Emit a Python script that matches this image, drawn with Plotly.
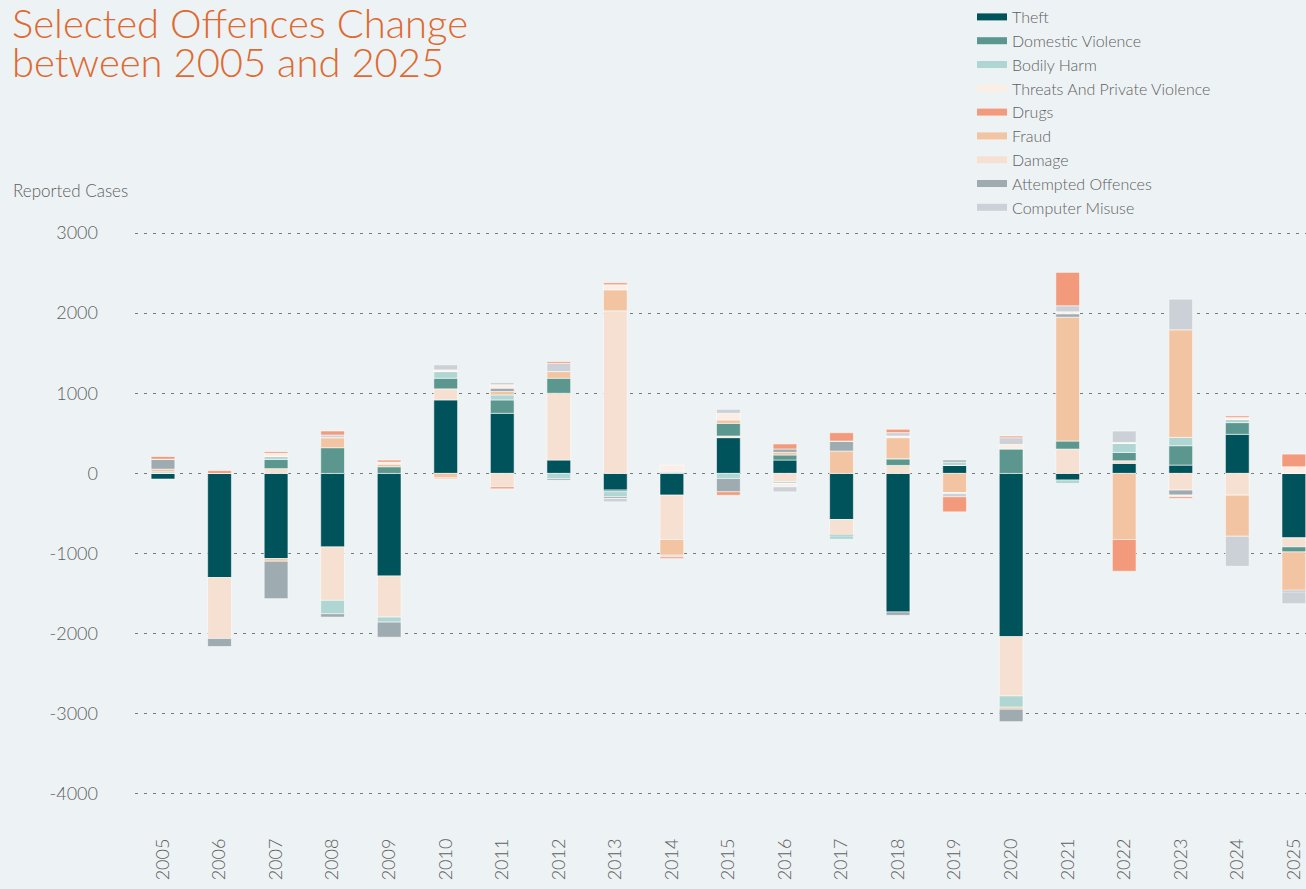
import plotly.graph_objects as go

years = list(range(2005, 2026))
year_labels = [str(y) for y in years]
y_ticks = [-4000, -3000, -2000, -1000, 0, 1000, 2000, 3000]
y_tick_labels = ["-4000", "-3000", "-2000", "-1000", "0", "1000", "2000", "3000"]

# Values (reported cases change), stacking order as drawn
theft =     [-70, -1300, -1063, -917, -1280, 917, 750, 167, -208, -271, 446, 167, -575, -1729, 100, -2037, -83, 125, 104, 488, -804]
damage =    [0, -760, 60, -667, -513, 138, -167, 833, 2029, -554, 21, -104, -188, 100, 0, -740, 304, 33, -208, -271, -113]
domestic =  [0, 0, 115, 321, 83, 133, 167, 188, -21, 10, 158, 63, -17, 83, 0, 304, 100, 104, 242, 146, -63]
bodily =    [20, 0, 35, -167, -63, 83, 63, -63, -63, 20, -63, -21, -42, 0, 42, -141, -42, 113, 104, 42, 0]
fraud =     [33, 0, -33, 125, 33, -54, 42, 83, 262, -196, 42, 33, 279, 263, -238, -25, 1546, -825, 1342, -513, -479]
attempted = [125, -100, -467, -42, -188, 0, 42, -21, -21, 0, -167, 42, 125, -42, 25, -155, 42, 0, -62, 0, -21]
threats =   [0, 0, 40, 0, 25, 21, 42, 0, 63, 75, 83, -42, 0, 21, -12, 58, 25, 12, -21, 21, 83]
computer =  [0, 0, 0, 33, 0, 63, 29, 104, -42, -21, 50, -63, 0, 42, -42, 83, 75, 142, 383, -375, -146]
drugs =     [33, 35, 20, 50, 25, -12, -25, 21, 25, -21, -42, 63, 104, 42, -188, 21, 417, -396, -21, 21, 158]

stack_order = [
    ("Theft", theft, "#00525B"),
    ("Damage", damage, "#F5E0D2"),
    ("Domestic Violence", domestic, "#5B978E"),
    ("Bodily Harm", bodily, "#AFD6D3"),
    ("Fraud", fraud, "#F2C4A2"),
    ("Attempted Offences", attempted, "#9EABB0"),
    ("Threats And Private Violence", threats, "#FDEEE5"),
    ("Computer Misuse", computer, "#CBD1D6"),
    ("Drugs", drugs, "#F29A7B"),
]
legend_order = ["Theft", "Domestic Violence", "Bodily Harm", "Threats And Private Violence",
                "Drugs", "Fraud", "Damage", "Attempted Offences", "Computer Misuse"]
colors = {n: c for n, _, c in stack_order}

BG = "#EDF2F4"
FONT = "Lato, 'Open Sans', sans-serif"
GRAY = "#5f5f5f"

fig = go.Figure()
for name, vals, col in stack_order:
    fig.add_trace(go.Bar(
        x=years, y=vals, name=name, marker_color=col,
        marker_line=dict(color="rgba(255,255,255,0.55)", width=1),
        width=0.42, showlegend=False,
    ))
for name in legend_order:
    fig.add_trace(go.Scatter(
        x=[None], y=[None], mode="lines", name=name,
        line=dict(color=colors[name], width=7), showlegend=True,
    ))

W, H = 1306, 889
L, R, T, B = 135, 0, 221, 55
pw, ph = W - L - R, H - T - B

def px_x(p):
    return (p - L) / pw

def px_y(p):
    return (H - B - p) / ph

fig.update_layout(
    width=W, height=H,
    margin=dict(l=L, r=R, t=T, b=B, pad=0, autoexpand=False),
    paper_bgcolor=BG, plot_bgcolor=BG,
    barmode="relative",
    font=dict(family=FONT, color=GRAY, size=17, weight=300),
    legend=dict(
        xref="container", yref="container", x=972 / W, y=1.0,
        xanchor="left", yanchor="top",
        font=dict(size=16, color=GRAY, weight=300), bgcolor="rgba(0,0,0,0)",
        traceorder="normal", itemwidth=30,
    ),
    xaxis=dict(
        range=[2004.505, 2025.215], tickvals=years, ticktext=year_labels,
        tickangle=-90, showgrid=False, zeroline=False, showline=False,
        ticks="", tickfont=dict(size=18, color=GRAY, weight=300), fixedrange=True,
    ),
    yaxis=dict(
        range=[-4500, 3150], tickvals=y_ticks, ticktext=y_tick_labels,
        showgrid=True, gridcolor="#7a7a7a", gridwidth=1, griddash="3px,6px",
        zeroline=False, showline=False, ticks="",
        tickfont=dict(size=18, color=GRAY, weight=300), ticklabelstandoff=36,
    ),
    annotations=[
        dict(text="Selected Offences Change", xref="paper", yref="paper",
             x=px_x(10), y=px_y(23), xanchor="left", yanchor="middle",
             showarrow=False, font=dict(size=40, color="#E0692F", family=FONT, weight=300)),
        dict(text="between 2005 and 2025", xref="paper", yref="paper",
             x=px_x(10), y=px_y(62), xanchor="left", yanchor="middle",
             showarrow=False, font=dict(size=40, color="#E0692F", family=FONT, weight=300)),
        dict(text="Reported Cases", xref="paper", yref="paper",
             x=px_x(11), y=px_y(190), xanchor="left", yanchor="middle",
             showarrow=False, font=dict(size=17, color=GRAY, family=FONT, weight=300)),
    ],
)

post = ("document.body.style.margin='0';document.body.style.background='%s';"
        "document.body.style.overflow='hidden';" % BG)
fig.write_html("out.html", post_script=post, config={"displayModeBar": False})
